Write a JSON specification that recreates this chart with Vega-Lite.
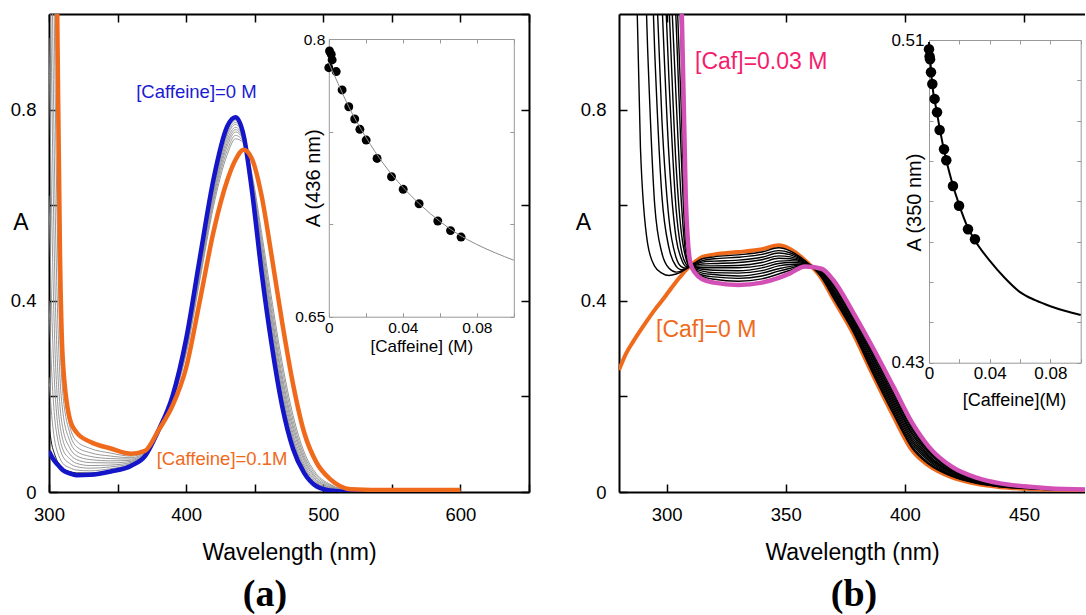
{
"$schema": "https://vega.github.io/schema/vega-lite/v6.json",
"background": "white",
"padding": {"left": 10, "top": 13, "right": 0, "bottom": 0},
"spacing": 45,
"config": {
  "view": {"stroke": null},
  "font": "Liberation Sans",
  "axis": {"grid": false, "labelFont": "Liberation Sans", "titleFont": "Liberation Sans", "labelColor": "black", "titleColor": "black", "titleFontWeight": "normal", "labelOverlap": false, "labelFlush": false, "labelBound": false}
},
"datasets": {
  "a": [
    {"wl":300,"b":0.085,"o":3.0,"g1":0.14,"g2":0.24,"g3":0.40,"g4":0.62,"g5":0.95,"g6":1.35,"g7":1.8,"g8":2.3,"g9":2.7},
    {"wl":302,"b":0.074,"o":2.2,"g1":0.10,"g2":0.16,"g3":0.25,"g4":0.38,"g5":0.58,"g6":0.85,"g7":1.15,"g8":1.55,"g9":1.9},
    {"wl":304,"b":0.065,"o":1.5,"g1":0.08,"g2":0.11,"g3":0.16,"g4":0.23,"g5":0.33,"g6":0.48,"g7":0.68,"g8":0.95,"g9":1.2},
    {"wl":306,"b":0.058,"o":1.0,"g1":0.065,"g2":0.085,"g3":0.115,"g4":0.15,"g5":0.20,"g6":0.28,"g7":0.40,"g8":0.56,"g9":0.75},
    {"wl":308,"b":0.052,"o":0.5,"g1":0.057,"g2":0.07,"g3":0.09,"g4":0.11,"g5":0.14,"g6":0.18,"g7":0.24,"g8":0.32,"g9":0.40},
    {"wl":310,"b":0.046,"o":0.28,"g1":0.05,"g2":0.06,"g3":0.075,"g4":0.09,"g5":0.11,"g6":0.135,"g7":0.17,"g8":0.21,"g9":0.25},
    {"wl":315,"b":0.039,"o":0.155,"g1":0.043,"g2":0.051,"g3":0.06,"g4":0.07,"g5":0.08,"g6":0.093,"g7":0.108,"g8":0.125,"g9":0.14},
    {"wl":320,"b":0.035,"o":0.125,"g1":0.04,"g2":0.046,"g3":0.053,"g4":0.06,"g5":0.068,"g6":0.076,"g7":0.085,"g8":0.095,"g9":0.107},
    {"wl":330,"b":0.036,"o":0.105,"g1":0.0395,"g2":0.0443,"g3":0.0498,"g4":0.0553,"g5":0.0615,"g6":0.0677,"g7":0.0746,"g8":0.0822,"g9":0.0912},
    {"wl":345,"b":0.043,"o":0.091,"g1":0.0454,"g2":0.0488,"g3":0.0526,"g4":0.0564,"g5":0.0608,"g6":0.0651,"g7":0.0699,"g8":0.0752,"g9":0.0814},
    {"wl":360,"b":0.055,"o":0.080,"g1":0.0562,"g2":0.058,"g3":0.06,"g4":0.062,"g5":0.0643,"g6":0.0665,"g7":0.069,"g8":0.0718,"g9":0.075},
    {"wl":370,"b":0.075,"o":0.086,"g1":0.0755,"g2":0.0763,"g3":0.0772,"g4":0.0781,"g5":0.0791,"g6":0.0801,"g7":0.0812,"g8":0.0824,"g9":0.0838},
    {"wl":380,"b":0.13,"o":0.13,"g1":0.13,"g2":0.13,"g3":0.13,"g4":0.13,"g5":0.13,"g6":0.13,"g7":0.13,"g8":0.13,"g9":0.13},
    {"wl":390,"b":0.20,"o":0.18,"g1":0.199,"g2":0.198,"g3":0.197,"g4":0.196,"g5":0.195,"g6":0.194,"g7":0.193,"g8":0.191,"g9":0.190},
    {"wl":400,"b":0.32,"o":0.26,"g1":0.318,"g2":0.315,"g3":0.312,"g4":0.309,"g5":0.306,"g6":0.302,"g7":0.298,"g8":0.294,"g9":0.289},
    {"wl":410,"b":0.49,"o":0.40,"g1":0.487,"g2":0.483,"g3":0.478,"g4":0.474,"g5":0.468,"g6":0.463,"g7":0.458,"g8":0.450,"g9":0.443},
    {"wl":420,"b":0.655,"o":0.545,"g1":0.652,"g2":0.646,"g3":0.641,"g4":0.635,"g5":0.629,"g6":0.622,"g7":0.615,"g8":0.607,"g9":0.598},
    {"wl":430,"b":0.765,"o":0.652,"g1":0.762,"g2":0.756,"g3":0.750,"g4":0.745,"g5":0.738,"g6":0.731,"g7":0.724,"g8":0.715,"g9":0.706},
    {"wl":436,"b":0.784,"o":0.695,"g1":0.781,"g2":0.777,"g3":0.773,"g4":0.769,"g5":0.763,"g6":0.758,"g7":0.753,"g8":0.746,"g9":0.739},
    {"wl":442,"b":0.745,"o":0.716,"g1":0.744,"g2":0.743,"g3":0.741,"g4":0.740,"g5":0.738,"g6":0.736,"g7":0.735,"g8":0.732,"g9":0.730},
    {"wl":448,"b":0.63,"o":0.697,"g1":0.632,"g2":0.635,"g3":0.639,"g4":0.642,"g5":0.646,"g6":0.650,"g7":0.654,"g8":0.660,"g9":0.665},
    {"wl":455,"b":0.46,"o":0.62,"g1":0.465,"g2":0.473,"g3":0.481,"g4":0.489,"g5":0.498,"g6":0.508,"g7":0.518,"g8":0.530,"g9":0.543},
    {"wl":462,"b":0.315,"o":0.50,"g1":0.321,"g2":0.33,"g3":0.339,"g4":0.348,"g5":0.359,"g6":0.371,"g7":0.382,"g8":0.396,"g9":0.411},
    {"wl":470,"b":0.18,"o":0.355,"g1":0.185,"g2":0.194,"g3":0.203,"g4":0.212,"g5":0.222,"g6":0.233,"g7":0.243,"g8":0.257,"g9":0.271},
    {"wl":478,"b":0.09,"o":0.225,"g1":0.094,"g2":0.101,"g3":0.108,"g4":0.114,"g5":0.122,"g6":0.131,"g7":0.139,"g8":0.149,"g9":0.160},
    {"wl":486,"b":0.04,"o":0.125,"g1":0.043,"g2":0.047,"g3":0.051,"g4":0.055,"g5":0.060,"g6":0.066,"g7":0.071,"g8":0.077,"g9":0.084},
    {"wl":495,"b":0.012,"o":0.062,"g1":0.014,"g2":0.016,"g3":0.019,"g4":0.021,"g5":0.024,"g6":0.027,"g7":0.030,"g8":0.034,"g9":0.038},
    {"wl":505,"b":0.003,"o":0.027,"g1":0.004,"g2":0.005,"g3":0.006,"g4":0.007,"g5":0.009,"g6":0.010,"g7":0.012,"g8":0.014,"g9":0.016},
    {"wl":520,"b":0,"o":0.006,"g1":0,"g2":0,"g3":0.001,"g4":0.001,"g5":0.001,"g6":0.002,"g7":0.002,"g8":0.003,"g9":0.003},
    {"wl":550,"b":0,"o":0.004,"g1":0,"g2":0,"g3":0.001,"g4":0.001,"g5":0.001,"g6":0.001,"g7":0.001,"g8":0.002,"g9":0.002},
    {"wl":600,"b":0,"o":0.004,"g1":0,"g2":0,"g3":0.001,"g4":0.001,"g5":0.001,"g6":0.001,"g7":0.001,"g8":0.002,"g9":0.002}
  ],
  "ai": [
    {"c":0.0004,"A":0.7935},{"c":0.0013,"A":0.7917},{"c":0.0018,"A":0.7887},{"c":0.0,"A":0.7845},{"c":0.004,"A":0.7824},
    {"c":0.0072,"A":0.7725},{"c":0.0108,"A":0.7634},{"c":0.014,"A":0.7568},{"c":0.0168,"A":0.7512},{"c":0.0202,"A":0.7454},
    {"c":0.0261,"A":0.7355},{"c":0.0339,"A":0.7256},{"c":0.0402,"A":0.7188},{"c":0.0488,"A":0.711},{"c":0.0589,"A":0.7017},
    {"c":0.0658,"A":0.6965},{"c":0.0715,"A":0.693}
  ],
  "af": [
    {"c":0,"A":0.787},{"c":0.005,"A":0.776},{"c":0.01,"A":0.765},{"c":0.02,"A":0.747},{"c":0.03,"A":0.732},{"c":0.04,"A":0.72},
    {"c":0.05,"A":0.71},{"c":0.06,"A":0.7015},{"c":0.07,"A":0.6945},{"c":0.08,"A":0.689},{"c":0.09,"A":0.6845},{"c":0.1,"A":0.6805}
  ],
  "b": [
    {"wl":280,"o":0.255,"m":6,"k1":3.5,"k2":5,"k3":6,"k4":7},
    {"wl":283,"o":0.29,"m":5.5,"k1":2.2,"k2":3.2,"k3":4.2,"k4":4.8},
    {"wl":286,"o":0.315,"m":5,"k1":1.35,"k2":2.1,"k3":2.8,"k4":3.3,"k5":3.6},
    {"wl":289,"o":0.338,"m":4.5,"k1":0.72,"k2":1.4,"k3":1.9,"k4":2.3,"k5":2.6,"k6":2.9},
    {"wl":292,"o":0.36,"m":4,"k1":0.52,"k2":0.93,"k3":1.35,"k4":1.65,"k5":1.95,"k6":2.2,"k7":2.4},
    {"wl":295,"o":0.381,"m":3.5,"k1":0.472,"k2":0.6,"k3":0.92,"k4":1.15,"k5":1.42,"k6":1.65,"k7":1.85,"k8":2.0},
    {"wl":298,"o":0.40,"m":3.0,"k1":0.458,"k2":0.5,"k3":0.62,"k4":0.78,"k5":1.03,"k6":1.22,"k7":1.4,"k8":1.55,"k9":1.7,"k10":1.85,"k11":2.0},
    {"wl":301,"o":0.42,"m":2.4,"k1":0.453,"k2":0.468,"k3":0.51,"k4":0.57,"k5":0.70,"k6":0.86,"k7":1.02,"k8":1.15,"k9":1.32,"k10":1.45,"k11":1.6},
    {"wl":304,"o":0.44,"m":1.7,"k1":0.456,"k2":0.46,"k3":0.472,"k4":0.49,"k5":0.53,"k6":0.59,"k7":0.68,"k8":0.82,"k9":0.98,"k10":1.08,"k11":1.2},
    {"wl":306,"o":0.452,"m":1.1,"k1":0.46,"k2":0.462,"k3":0.465,"k4":0.472,"k5":0.49,"k6":0.51,"k7":0.55,"k8":0.62,"k9":0.72,"k10":0.82,"k11":0.95},
    {"wl":308,"o":0.464,"m":0.62,"k1":0.466,"k2":0.467,"k3":0.467,"k4":0.468,"k5":0.472,"k6":0.478,"k7":0.49,"k8":0.50,"k9":0.52,"k10":0.54,"k11":0.57},
    {"wl":310,"o":0.474,"m":0.478,"k1":0.474,"k2":0.473,"k3":0.472,"k4":0.471,"k5":0.47,"k6":0.47,"k7":0.47,"k8":0.472,"k9":0.476,"k10":0.48,"k11":0.485},
    {"wl":312,"o":0.482,"m":0.458,"k1":0.480,"k2":0.478,"k3":0.476,"k4":0.474,"k5":0.472,"k6":0.470,"k7":0.469,"k8":0.467,"k9":0.465,"k10":0.463,"k11":0.461},
    {"wl":315,"o":0.492,"m":0.445,"k1":0.488,"k2":0.484,"k3":0.481,"k4":0.477,"k5":0.473,"k6":0.469,"k7":0.466,"k8":0.462,"k9":0.458,"k10":0.454,"k11":0.451},
    {"wl":320,"o":0.497,"m":0.438,"k1":0.492,"k2":0.488,"k3":0.483,"k4":0.478,"k5":0.473,"k6":0.469,"k7":0.464,"k8":0.459,"k9":0.455,"k10":0.450,"k11":0.445},
    {"wl":330,"o":0.502,"m":0.433,"k1":0.496,"k2":0.491,"k3":0.485,"k4":0.480,"k5":0.474,"k6":0.469,"k7":0.463,"k8":0.458,"k9":0.452,"k10":0.447,"k11":0.441},
    {"wl":340,"o":0.508,"m":0.438,"k1":0.502,"k2":0.497,"k3":0.491,"k4":0.486,"k5":0.480,"k6":0.474,"k7":0.469,"k8":0.463,"k9":0.458,"k10":0.452,"k11":0.446},
    {"wl":347,"o":0.516,"m":0.448,"k1":0.511,"k2":0.505,"k3":0.500,"k4":0.494,"k5":0.489,"k6":0.483,"k7":0.478,"k8":0.473,"k9":0.467,"k10":0.462,"k11":0.456},
    {"wl":352,"o":0.508,"m":0.458,"k1":0.504,"k2":0.500,"k3":0.496,"k4":0.492,"k5":0.488,"k6":0.484,"k7":0.480,"k8":0.476,"k9":0.472,"k10":0.468,"k11":0.464},
    {"wl":358,"o":0.485,"m":0.472,"k1":0.484,"k2":0.483,"k3":0.482,"k4":0.481,"k5":0.480,"k6":0.479,"k7":0.478,"k8":0.477,"k9":0.476,"k10":0.475,"k11":0.474},
    {"wl":365,"o":0.447,"m":0.467,"k1":0.449,"k2":0.450,"k3":0.452,"k4":0.453,"k5":0.455,"k6":0.457,"k7":0.458,"k8":0.460,"k9":0.461,"k10":0.463,"k11":0.465},
    {"wl":370,"o":0.403,"m":0.443,"k1":0.406,"k2":0.409,"k3":0.413,"k4":0.416,"k5":0.419,"k6":0.422,"k7":0.425,"k8":0.429,"k9":0.432,"k10":0.435,"k11":0.438},
    {"wl":378,"o":0.334,"m":0.378,"k1":0.338,"k2":0.341,"k3":0.345,"k4":0.349,"k5":0.352,"k6":0.356,"k7":0.360,"k8":0.363,"k9":0.367,"k10":0.371,"k11":0.374},
    {"wl":386,"o":0.25,"m":0.307,"k1":0.254,"k2":0.259,"k3":0.263,"k4":0.268,"k5":0.272,"k6":0.277,"k7":0.281,"k8":0.286,"k9":0.290,"k10":0.295,"k11":0.299},
    {"wl":395,"o":0.16,"m":0.222,"k1":0.165,"k2":0.170,"k3":0.175,"k4":0.180,"k5":0.185,"k6":0.190,"k7":0.195,"k8":0.200,"k9":0.205,"k10":0.210,"k11":0.215},
    {"wl":403,"o":0.087,"m":0.145,"k1":0.092,"k2":0.096,"k3":0.101,"k4":0.106,"k5":0.110,"k6":0.115,"k7":0.120,"k8":0.124,"k9":0.129,"k10":0.133,"k11":0.138},
    {"wl":410,"o":0.055,"m":0.095,"k1":0.058,"k2":0.061,"k3":0.065,"k4":0.068,"k5":0.071,"k6":0.074,"k7":0.077,"k8":0.081,"k9":0.084,"k10":0.087,"k11":0.090},
    {"wl":420,"o":0.03,"m":0.052,"k1":0.032,"k2":0.034,"k3":0.035,"k4":0.037,"k5":0.039,"k6":0.041,"k7":0.042,"k8":0.044,"k9":0.046,"k10":0.048,"k11":0.049},
    {"wl":430,"o":0.017,"m":0.03,"k1":0.018,"k2":0.019,"k3":0.02,"k4":0.021,"k5":0.022,"k6":0.023,"k7":0.024,"k8":0.025,"k9":0.026,"k10":0.027,"k11":0.028},
    {"wl":440,"o":0.01,"m":0.018,"k1":0.011,"k2":0.011,"k3":0.012,"k4":0.013,"k5":0.013,"k6":0.014,"k7":0.014,"k8":0.015,"k9":0.016,"k10":0.016,"k11":0.017},
    {"wl":450,"o":0.007,"m":0.012,"k1":0.007,"k2":0.008,"k3":0.008,"k4":0.009,"k5":0.009,"k6":0.009,"k7":0.01,"k8":0.01,"k9":0.011,"k10":0.011,"k11":0.011},
    {"wl":460,"o":0.005,"m":0.008,"k1":0.005,"k2":0.005,"k3":0.006,"k4":0.006,"k5":0.006,"k6":0.006,"k7":0.007,"k8":0.007,"k9":0.007,"k10":0.007,"k11":0.008},
    {"wl":477,"o":0.004,"m":0.005,"k1":0.004,"k2":0.004,"k3":0.004,"k4":0.004,"k5":0.004,"k6":0.004,"k7":0.005,"k8":0.005,"k9":0.005,"k10":0.005,"k11":0.005}
  ],
  "bi": [
    {"c":0,"A":0.5077},{"c":0.0004,"A":0.5059},{"c":0.0007,"A":0.5052},{"c":0.0013,"A":0.502},{"c":0.0022,"A":0.4991},
    {"c":0.0037,"A":0.4954},{"c":0.0053,"A":0.4921},{"c":0.007,"A":0.4877},{"c":0.0099,"A":0.4829},{"c":0.0114,"A":0.4802},
    {"c":0.0158,"A":0.4738},{"c":0.0198,"A":0.4689},{"c":0.0257,"A":0.4631},{"c":0.0303,"A":0.4606}
  ],
  "bf": [
    {"c":0,"A":0.5095},{"c":0.002,"A":0.4995},{"c":0.005,"A":0.4925},{"c":0.01,"A":0.4825},{"c":0.015,"A":0.475},{"c":0.02,"A":0.469},
    {"c":0.025,"A":0.464},{"c":0.03,"A":0.4605},{"c":0.04,"A":0.4553},{"c":0.05,"A":0.451},{"c":0.06,"A":0.4475},{"c":0.07,"A":0.4455},
    {"c":0.08,"A":0.444},{"c":0.09,"A":0.4428},{"c":0.1,"A":0.4418}
  ]
},
"hconcat": [
  {
    "width": 480, "height": 478,
    "title": {"text": "(a)", "orient": "bottom", "font": "Liberation Serif", "fontSize": 38, "fontWeight": "bold", "color": "black", "dx": -24, "offset": 11, "anchor": "middle"},
    "layer": [
      {
        "data": {"name": "a"},
        "transform": [{"fold": ["g2","g3","g4","g5","g6","g7","g8","g9"], "as": ["key","A"]}],
        "mark": {"type": "line", "stroke": "#8c8c8c", "strokeWidth": 0.9, "interpolate": "monotone", "clip": true},
        "encoding": {
          "x": {"field": "wl", "type": "quantitative", "scale": {"domain": [300,650], "nice": false, "zero": false},
                "axis": {"orient": "bottom", "values": [300,350,400,450,500,550,600,650], "labelExpr": "datum.value % 100 == 0 ? datum.label : ''", "tickSize": -8, "tickWidth": 1.5, "tickColor": "black", "domainColor": "black", "domainWidth": 2, "labelFontSize": 18.5, "labelPadding": 21, "title": "Wavelength (nm)", "titleFontSize": 23, "titlePadding": 18}},
          "y": {"field": "A", "type": "quantitative", "scale": {"domain": [0,1], "nice": false, "zero": false},
                "axis": {"orient": "left", "values": [0,0.2,0.4,0.6,0.8], "format": "~g", "labelExpr": "datum.value == 0 || datum.value == 0.4 || datum.value == 0.8 ? datum.label : ''", "tickSize": -8, "tickWidth": 1.5, "tickColor": "black", "domainColor": "black", "domainWidth": 2, "labelFontSize": 18.5, "labelPadding": 21, "title": "A", "titleFontSize": 23, "titleAngle": 0, "titleX": -28.5, "titleY": 208, "titleAlign": "center", "titleBaseline": "middle"}},
          "detail": {"field": "key"}
        }
      },
      {
        "data": {"name": "a"},
        "mark": {"type": "line", "stroke": "black", "strokeWidth": 0.9, "interpolate": "monotone", "clip": true},
        "encoding": {
          "x": {"field": "wl", "type": "quantitative", "scale": {"domain": [300,650], "nice": false, "zero": false},
                "axis": {"orient": "top", "values": [300,350,400,450,500,550,600,650], "labels": false, "tickSize": -8, "tickWidth": 1.5, "tickColor": "black", "domainColor": "black", "domainWidth": 2, "title": null}},
          "y": {"field": "g1", "type": "quantitative", "scale": {"domain": [0,1], "nice": false, "zero": false},
                "axis": {"orient": "right", "values": [0,0.2,0.4,0.6,0.8,1], "labels": false, "tickSize": -8, "tickWidth": 1.5, "tickColor": "black", "domainColor": "black", "domainWidth": 2, "title": null}}
        }
      },
      {
        "data": {"name": "a"},
        "mark": {"type": "line", "stroke": "#1414c8", "strokeWidth": 4.5, "interpolate": "monotone", "clip": true},
        "encoding": {
          "x": {"field": "wl", "type": "quantitative", "scale": {"domain": [300,650], "nice": false, "zero": false}, "axis": null},
          "y": {"field": "b", "type": "quantitative", "scale": {"domain": [0,1], "nice": false, "zero": false}, "axis": null}
        }
      },
      {
        "data": {"name": "a"},
        "mark": {"type": "line", "stroke": "#f06a1c", "strokeWidth": 4.5, "interpolate": "monotone", "clip": true},
        "encoding": {
          "x": {"field": "wl", "type": "quantitative", "scale": {"domain": [300,650], "nice": false, "zero": false}, "axis": null},
          "y": {"field": "o", "type": "quantitative", "scale": {"domain": [0,1], "nice": false, "zero": false}, "axis": null}
        }
      },
      {
        "data": {"values": [{}]},
        "mark": {"type": "text", "text": "[Caffeine]=0 M", "color": "#1a1ad2", "fontSize": 18.5, "font": "Liberation Sans", "align": "center", "baseline": "middle"},
        "encoding": {
          "x": {"datum": 407.5, "type": "quantitative", "scale": {"domain": [300,650], "nice": false, "zero": false}, "axis": null},
          "y": {"datum": 0.836, "type": "quantitative", "scale": {"domain": [0,1], "nice": false, "zero": false}, "axis": null}
        }
      },
      {
        "data": {"values": [{}]},
        "mark": {"type": "text", "text": "[Caffeine]=0.1M", "color": "#f06a1c", "fontSize": 18.5, "font": "Liberation Sans", "align": "center", "baseline": "middle"},
        "encoding": {
          "x": {"datum": 426.2, "type": "quantitative", "scale": {"domain": [300,650], "nice": false, "zero": false}, "axis": null},
          "y": {"datum": 0.07, "type": "quantitative", "scale": {"domain": [0,1], "nice": false, "zero": false}, "axis": null}
        }
      },
      {
        "data": {"name": "ai"},
        "mark": {"type": "point", "filled": true, "color": "black", "opacity": 1, "size": 80},
        "encoding": {
          "x": {"field": "c", "type": "quantitative", "scale": {"domain": [0,0.1], "range": [279.8,464.8], "nice": false, "zero": false},
                "axis": {"orient": "bottom", "offset": -175.3, "values": [0,0.02,0.04,0.06,0.08,0.1], "format": "~g", "labelExpr": "datum.value == 0 || datum.value == 0.04 || datum.value == 0.08 ? datum.label : ''", "tickSize": -4, "tickColor": "#999999", "domainColor": "#999999", "domainWidth": 1, "labelFontSize": 15.5, "labelPadding": 8, "title": "[Caffeine] (M)", "titleFontSize": 17, "titlePadding": 2}},
          "y": {"field": "A", "type": "quantitative", "scale": {"domain": [0.65,0.8], "range": [302.7,25], "nice": false, "zero": false},
                "axis": {"orient": "left", "offset": -279.8, "values": [0.65,0.7,0.75,0.8], "format": "~g", "labelExpr": "datum.value == 0.65 || datum.value == 0.8 ? datum.label : ''", "tickSize": -4, "tickColor": "#999999", "domainColor": "#999999", "domainWidth": 1, "labelFontSize": 15.5, "labelPadding": 8, "title": "A (436 nm)", "titleFontSize": 20, "titleAngle": -90, "titleX": -15.3, "titleY": 163.8, "titleAlign": "center", "titleBaseline": "middle"}}
        }
      },
      {
        "data": {"name": "af"},
        "mark": {"type": "line", "stroke": "#8c8c8c", "strokeWidth": 1, "interpolate": "monotone"},
        "encoding": {
          "x": {"field": "c", "type": "quantitative", "scale": {"domain": [0,0.1], "range": [279.8,464.8], "nice": false, "zero": false},
                "axis": {"orient": "top", "offset": -25, "values": [0,0.02,0.04,0.06,0.08,0.1], "labels": false, "tickSize": -4, "tickColor": "#999999", "domainColor": "#999999", "domainWidth": 1, "title": null}},
          "y": {"field": "A", "type": "quantitative", "scale": {"domain": [0.65,0.8], "range": [302.7,25], "nice": false, "zero": false},
                "axis": {"orient": "right", "offset": -15.2, "values": [0.65,0.7,0.75,0.8], "labels": false, "tickSize": -4, "tickColor": "#999999", "domainColor": "#999999", "domainWidth": 1, "title": null}}
        }
      }
    ],
    "resolve": {"scale": {"x": "independent", "y": "independent"}, "axis": {"x": "independent", "y": "independent"}}
  },
  {
    "width": 466, "height": 478,
    "title": {"text": "(b)", "orient": "bottom", "font": "Liberation Serif", "fontSize": 38, "fontWeight": "bold", "color": "black", "dx": 2, "offset": 11, "anchor": "middle"},
    "layer": [
      {
        "data": {"name": "b"},
        "mark": {"type": "line", "stroke": "#f06a1c", "strokeWidth": 4, "interpolate": "monotone", "clip": true},
        "encoding": {
          "x": {"field": "wl", "type": "quantitative", "scale": {"domain": [280,475.6], "nice": false, "zero": false},
                "axis": {"orient": "bottom", "values": [300,350,400,450], "tickSize": -8, "tickWidth": 1.5, "tickColor": "black", "domainColor": "black", "domainWidth": 2, "labelFontSize": 18.5, "labelPadding": 21, "title": "Wavelength (nm)", "titleFontSize": 23, "titlePadding": 18}},
          "y": {"field": "o", "type": "quantitative", "scale": {"domain": [0,1], "nice": false, "zero": false},
                "axis": {"orient": "left", "values": [0,0.2,0.4,0.6,0.8], "format": "~g", "labelExpr": "datum.value == 0 || datum.value == 0.4 || datum.value == 0.8 ? datum.label : ''", "tickSize": -8, "tickWidth": 1.5, "tickColor": "black", "domainColor": "black", "domainWidth": 2, "labelFontSize": 18.5, "labelPadding": 21, "title": "A", "titleFontSize": 23, "titleAngle": 0, "titleX": -36, "titleY": 208, "titleAlign": "center", "titleBaseline": "middle"}}
        }
      },
      {
        "data": {"name": "b"},
        "transform": [{"fold": ["k1","k2","k3","k4","k5","k6","k7","k8","k9","k10","k11"], "as": ["key","A"]}, {"filter": "isValid(datum.A)"}],
        "mark": {"type": "line", "stroke": "black", "strokeWidth": 1.4, "interpolate": "monotone", "clip": true},
        "encoding": {
          "x": {"field": "wl", "type": "quantitative", "scale": {"domain": [280,475.6], "nice": false, "zero": false},
                "axis": {"orient": "top", "values": [300,350,400,450], "labels": false, "tickSize": -8, "tickWidth": 1.5, "tickColor": "black", "domainColor": "black", "domainWidth": 2, "title": null}},
          "y": {"field": "A", "type": "quantitative", "scale": {"domain": [0,1], "nice": false, "zero": false}, "axis": null},
          "detail": {"field": "key"}
        }
      },
      {
        "data": {"name": "b"},
        "mark": {"type": "line", "stroke": "#d24fb5", "strokeWidth": 4.5, "interpolate": "monotone", "clip": true},
        "encoding": {
          "x": {"field": "wl", "type": "quantitative", "scale": {"domain": [280,475.6], "nice": false, "zero": false}, "axis": null},
          "y": {"field": "m", "type": "quantitative", "scale": {"domain": [0,1], "nice": false, "zero": false}, "axis": null}
        }
      },
      {
        "data": {"values": [{}]},
        "mark": {"type": "text", "text": "[Caf]=0.03 M", "color": "#f51d6e", "fontSize": 23, "font": "Liberation Sans", "align": "center", "baseline": "middle"},
        "encoding": {
          "x": {"datum": 339.7, "type": "quantitative", "scale": {"domain": [280,475.6], "nice": false, "zero": false}, "axis": null},
          "y": {"datum": 0.9, "type": "quantitative", "scale": {"domain": [0,1], "nice": false, "zero": false}, "axis": null}
        }
      },
      {
        "data": {"values": [{}]},
        "mark": {"type": "text", "text": "[Caf]=0 M", "color": "#f06a1c", "fontSize": 23, "font": "Liberation Sans", "align": "center", "baseline": "middle"},
        "encoding": {
          "x": {"datum": 316.6, "type": "quantitative", "scale": {"domain": [280,475.6], "nice": false, "zero": false}, "axis": null},
          "y": {"datum": 0.338, "type": "quantitative", "scale": {"domain": [0,1], "nice": false, "zero": false}, "axis": null}
        }
      },
      {
        "data": {"name": "bi"},
        "mark": {"type": "point", "filled": true, "color": "black", "opacity": 1, "size": 110},
        "encoding": {
          "x": {"field": "c", "type": "quantitative", "scale": {"domain": [0,0.1], "range": [310,461.7], "nice": false, "zero": false},
                "axis": {"orient": "bottom", "offset": -129.3, "values": [0,0.02,0.04,0.06,0.08,0.1], "format": "~g", "labelExpr": "datum.value == 0 || datum.value == 0.04 || datum.value == 0.08 ? datum.label : ''", "tickSize": -4, "tickColor": "#999999", "domainColor": "#999999", "domainWidth": 1, "labelFontSize": 17, "labelPadding": 7, "title": "[Caffeine](M)", "titleFontSize": 18, "titlePadding": 10, "titleX": 395}},
          "y": {"field": "A", "type": "quantitative", "scale": {"domain": [0.43,0.51], "range": [348.7,26], "nice": false, "zero": false},
                "axis": {"orient": "left", "offset": -310, "values": [0.43,0.44,0.45,0.46,0.47,0.48,0.49,0.5,0.51], "format": "~g", "labelExpr": "datum.value == 0.43 || datum.value == 0.51 ? datum.label : ''", "tickSize": -4, "tickColor": "#999999", "domainColor": "#999999", "domainWidth": 1, "labelFontSize": 17, "labelPadding": 9, "title": "A (350 nm)", "titleFontSize": 20, "titleAngle": -90, "titleX": -15, "titleY": 188, "titleAlign": "center", "titleBaseline": "middle"}}
        }
      },
      {
        "data": {"name": "bf"},
        "mark": {"type": "line", "stroke": "black", "strokeWidth": 2, "interpolate": "monotone"},
        "encoding": {
          "x": {"field": "c", "type": "quantitative", "scale": {"domain": [0,0.1], "range": [310,461.7], "nice": false, "zero": false},
                "axis": {"orient": "top", "offset": -26, "values": [0,0.02,0.04,0.06,0.08,0.1], "labels": false, "tickSize": -4, "tickColor": "#999999", "domainColor": "#999999", "domainWidth": 1, "title": null}},
          "y": {"field": "A", "type": "quantitative", "scale": {"domain": [0.43,0.51], "range": [348.7,26], "nice": false, "zero": false},
                "axis": {"orient": "right", "offset": -4.3, "values": [0.43,0.44,0.45,0.46,0.47,0.48,0.49,0.5,0.51], "labels": false, "tickSize": -4, "tickColor": "#999999", "domainColor": "#999999", "domainWidth": 1, "title": null}}
        }
      }
    ],
    "resolve": {"scale": {"x": "independent", "y": "independent"}, "axis": {"x": "independent", "y": "independent"}}
  }
]
}
